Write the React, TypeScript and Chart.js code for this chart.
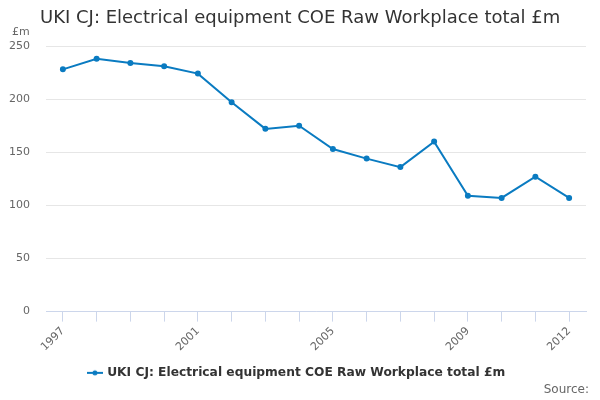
import { useEffect, useRef } from 'react';
import { Chart, registerables } from 'chart.js';

Chart.register(...registerables);

const years = ['1997', '1998', '1999', '2000', '2001', '2002', '2003', '2004', '2005', '2006', '2007', '2008', '2009', '2010', '2011', '2012'];
const workplaceTotal = [228, 238, 234, 231, 224, 197, 172, 175, 153, 144, 136, 160, 109, 107, 127, 107];
const shownYears = ['1997', '2001', '2005', '2009', '2012'];

const seriesName = 'UKI CJ: Electrical equipment COE Raw Workplace total £m';
const chartTitle = 'UKI CJ: Electrical equipment COE Raw Workplace total £m';
const unitLabel = '£m';
const sourceLabel = 'Source:';

const blue = '#0a7bc1';
const font = '"DejaVu Sans", sans-serif';

const makeMarker = () => {
  const c = document.createElement('canvas');
  c.width = 16;
  c.height = 8;
  const ctx = c.getContext('2d');
  if (ctx) {
    ctx.strokeStyle = blue;
    ctx.lineWidth = 2;
    ctx.beginPath();
    ctx.moveTo(0, 4);
    ctx.lineTo(16, 4);
    ctx.stroke();
    ctx.fillStyle = blue;
    ctx.beginPath();
    ctx.arc(8, 4, 2.5, 0, Math.PI * 2);
    ctx.fill();
  }
  return c;
};

// title, unit and source are drawn by hand so they sit where the original puts them
const textPlugin = {
  id: 'extraText',
  afterDraw(chart: Chart) {
    const ctx = chart.ctx;
    ctx.save();
    ctx.textBaseline = 'middle';
    ctx.fillStyle = '#333333';
    ctx.font = `18px ${font}`;
    ctx.textAlign = 'left';
    ctx.fillText(chartTitle, 40, 18);
    ctx.fillStyle = '#666666';
    ctx.font = `11px ${font}`;
    ctx.fillText(unitLabel, 12, 32);
    ctx.font = `12px ${font}`;
    ctx.textAlign = 'right';
    ctx.fillText(sourceLabel, 589, 390);
    ctx.restore();
  },
};

const App = () => {
  const chartRef = useRef<HTMLCanvasElement>(null);
  const chartInstanceRef = useRef<Chart | null>(null);

  useEffect(() => {
    document.body.style.margin = '0';
    if (chartRef.current) {
      if (chartInstanceRef.current) chartInstanceRef.current.destroy();
      chartInstanceRef.current = new Chart(chartRef.current, {
        type: 'line',
        data: {
          labels: years,
          datasets: [
            {
              label: seriesName,
              data: workplaceTotal,
              borderColor: blue,
              backgroundColor: blue,
              borderWidth: 2,
              pointRadius: 2,
              pointHoverRadius: 3,
              tension: 0,
            },
          ],
        },
        options: {
          animation: false,
          responsive: true,
          maintainAspectRatio: false,
          layout: { padding: { top: 46, left: 8, right: 14, bottom: 11 } },
          scales: {
            x: {
              offset: true,
              afterFit: (s: any) => {
                s.paddingLeft = 0;
                s.paddingRight = 0;
              },
              grid: {
                offset: false,
                drawOnChartArea: false,
                drawTicks: true,
                tickLength: 10,
                color: '#ccd6eb',
              },
              border: { color: '#ccd6eb' },
              ticks: {
                autoSkip: false,
                minRotation: 45,
                maxRotation: 45,
                color: '#666666',
                font: { family: font, size: 11 },
                callback: (_v, i) => (shownYears.includes(years[i]) ? years[i] : ''),
              },
            },
            y: {
              min: 0,
              max: 250,
              afterFit: (s: any) => {
                s.width = 38;
              },
              grid: { color: '#e6e6e6', drawTicks: false },
              border: { display: false },
              ticks: {
                stepSize: 50,
                padding: 16,
                color: '#666666',
                font: { family: font, size: 11 },
              },
            },
          },
          plugins: {
            title: { display: false },
            tooltip: { enabled: false },
            legend: {
              position: 'bottom',
              labels: {
                usePointStyle: true,
                pointStyle: makeMarker(),
                color: '#333333',
                font: { family: font, size: 12.25, weight: 'bold' },
                padding: 10,
              },
            },
          },
        },
        plugins: [textPlugin],
      });
    }

    return () => {
      if (chartInstanceRef.current) chartInstanceRef.current.destroy();
    };
  }, []);

  return (
    <div style={{ width: 600, height: 400, position: 'relative' }}>
      <canvas ref={chartRef} />
    </div>
  );
};

export default App;
